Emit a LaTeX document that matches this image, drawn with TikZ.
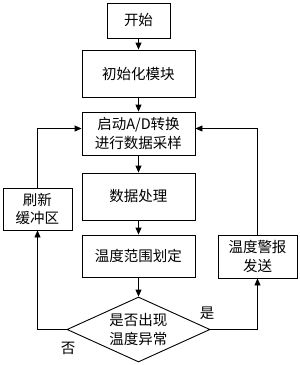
\documentclass[tikz,border=0pt]{standalone}
\usepackage{fontspec}
\newfontfamily\cjk{Noto Sans CJK SC}
\usetikzlibrary{shapes.geometric,arrows.meta}
\begin{document}
\begin{tikzpicture}[x=1pt,y=-1pt,line width=0.9pt,
  box/.style={draw,align=center,inner sep=0pt,font=\cjk\fontsize{14.5}{18.5}\selectfont},
  flow/.style={-{Triangle[length=7pt,width=6pt]}}]
\useasboundingbox (0,0) rectangle (300,365);
\node[box,minimum width=63pt,minimum height=35pt] (start) at (138.5,20.5) {开始};
\node[box,minimum width=113pt,minimum height=47pt] (init) at (138.5,73.5) {初始化模块};
\node[box,minimum width=113pt,minimum height=43pt] (adc) at (138.5,133.5) {启动A/D转换\\进行数据采样};
\node[box,minimum width=113pt,minimum height=47pt] (proc) at (138.5,196.5) {数据处理};
\node[box,minimum width=113pt,minimum height=42pt] (range) at (138.5,256) {温度范围划定};
\node[box,shape=diamond,aspect=2.2,minimum width=143pt,minimum height=65pt] (check) at (138.5,329.5) {是否出现\\温度异常};
\node[box,minimum width=69pt,minimum height=42pt] (refresh) at (37.5,209) {刷新\\缓冲区};
\node[box,minimum width=79pt,minimum height=43pt] (alarm) at (257.5,256.5) {温度警报\\发送};
\draw[flow] (start) -- (init);
\draw[flow] (init) -- (adc);
\draw[flow] (adc) -- (proc);
\draw[flow] (proc) -- (range);
\draw[flow] (range) -- (check);
\draw[flow] (check.west) -| (refresh.south);
\draw[flow] (refresh.north) |- ([yshift=5pt]adc.west);
\draw[flow] (check.east) -| (alarm.south);
\draw[flow] (alarm.north) |- ([yshift=5pt]adc.east);
\node[font=\cjk\fontsize{14.5}{17}\selectfont] (yes) at (207,313) {是};
\node[font=\cjk\fontsize{14.5}{17}\selectfont] (no) at (68,348) {否};
\end{tikzpicture}
\end{document}
